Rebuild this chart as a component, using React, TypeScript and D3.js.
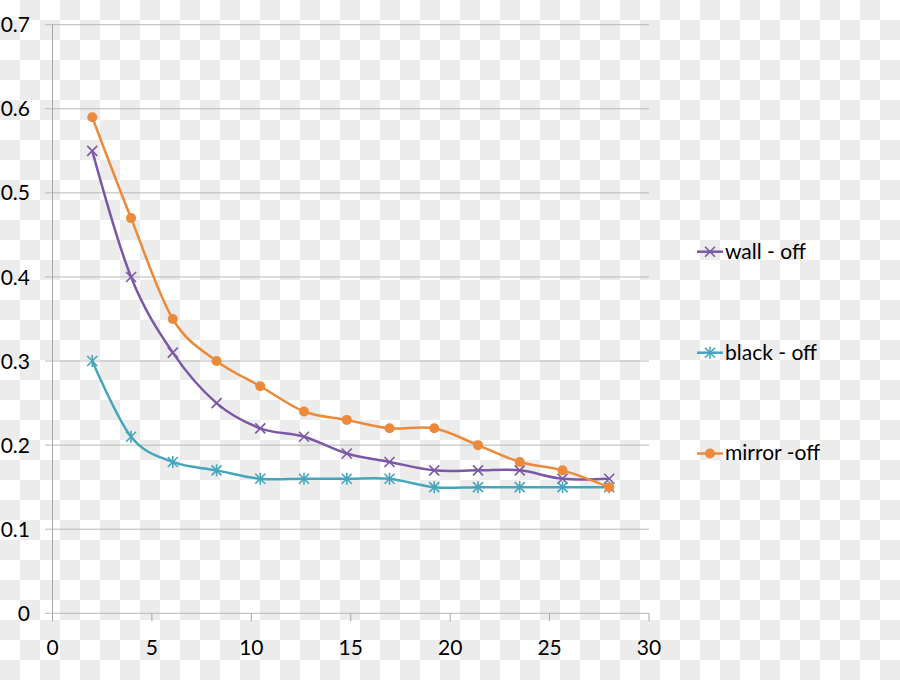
import React from "react";
import * as d3 from "d3";

const xValues = [2, 3.95, 6.05, 8.25, 10.45, 12.65, 14.8, 16.95, 19.2, 21.4, 23.5, 25.65, 28];
const wallOff = [0.55, 0.4, 0.31, 0.25, 0.22, 0.21, 0.19, 0.18, 0.17, 0.17, 0.17, 0.16, 0.16];
const blackOff = [0.3, 0.21, 0.18, 0.17, 0.16, 0.16, 0.16, 0.16, 0.15, 0.15, 0.15, 0.15, 0.15];
const mirrorOff = [0.59, 0.47, 0.35, 0.3, 0.27, 0.24, 0.23, 0.22, 0.22, 0.2, 0.18, 0.17, 0.15];
const seriesNames = ["wall - off", "black - off", "mirror -off"];
const xTicks = [0, 5, 10, 15, 20, 25, 30];
const yTicks = [0, 0.1, 0.2, 0.3, 0.4, 0.5, 0.6, 0.7];

const COLORS = ["#7a58a5", "#45a5bd", "#ec8a3b"];
const FONT = "Lato, 'Noto Sans', sans-serif";

function Marker({ kind, x, y, color }: { kind: number; x: number; y: number; color: string }) {
  const s = 5;
  if (kind === 0) {
    return (
      <g stroke={color} strokeWidth={1.6}>
        <line x1={x - s} y1={y - s} x2={x + s} y2={y + s} />
        <line x1={x - s} y1={y + s} x2={x + s} y2={y - s} />
      </g>
    );
  }
  if (kind === 1) {
    return (
      <g stroke={color} strokeWidth={1.6}>
        <line x1={x - s} y1={y - s} x2={x + s} y2={y + s} />
        <line x1={x - s} y1={y + s} x2={x + s} y2={y - s} />
        <line x1={x} y1={y - s - 1} x2={x} y2={y + s + 1} />
      </g>
    );
  }
  return <circle cx={x} cy={y} r={5} fill={color} />;
}

export default function App() {
  const W = 900;
  const H = 680;
  const x = d3.scaleLinear().domain([0, 30]).range([52.5, 649]);
  const y = d3.scaleLinear().domain([0, 0.7]).range([613.3, 24.7]);
  const series = [wallOff, blackOff, mirrorOff];
  const line = d3
    .line<[number, number]>()
    .x((d) => x(d[0]))
    .y((d) => y(d[1]))
    .curve(d3.curveCardinal.tension(0));
  const legendY = [251.7, 352.7, 453.5];

  const cells: { cx: number; cy: number }[] = [];
  for (let r = 0; r < H / 20; r++) {
    for (let c = 0; c < W / 20; c++) {
      if ((r + c) % 2 === 1) cells.push({ cx: c * 20, cy: r * 20 });
    }
  }

  return (
    <svg
      width={W}
      height={H}
      style={{ position: "absolute", left: 0, top: 0, display: "block" }}
      fontFamily={FONT}
    >
      <rect x={0} y={0} width={W} height={H} fill="#ffffff" />
      <g fill="#ececec">
        {cells.map((c, i) => (
          <rect key={"c" + i} x={c.cx} y={c.cy} width={20} height={20} />
        ))}
      </g>

      {/* gridlines */}
      {yTicks.map((t) => (
        <line key={"g" + t} x1={45} x2={649} y1={y(t)} y2={y(t)} stroke="#b8b8b8" strokeWidth={1} />
      ))}
      {/* y axis */}
      <line x1={x(0)} x2={x(0)} y1={y(0.7)} y2={y(0)} stroke="#a6a6a6" strokeWidth={1} />
      {/* x ticks */}
      {xTicks.map((t) => (
        <line key={"xt" + t} x1={x(t)} x2={x(t)} y1={y(0)} y2={y(0) + 8} stroke="#a6a6a6" strokeWidth={1} />
      ))}
      {/* y labels */}
      {yTicks.map((t) => (
        <text
          key={"yl" + t}
          x={30}
          y={y(t)}
          dy="0.36em"
          textAnchor="end"
          fontSize={21}
          fill="#000"
        >
          {t === 0 ? "0" : d3.format(".1f")(t)}
        </text>
      ))}
      {/* x labels */}
      {xTicks.map((t) => (
        <text key={"xl" + t} x={x(t)} y={655} textAnchor="middle" fontSize={21} fill="#000">
          {t}
        </text>
      ))}

      {/* lines */}
      {series.map((vals, i) => {
        const pts = xValues.map((xv, j) => [xv, vals[j]] as [number, number]);
        return (
          <g key={"s" + i}>
            <path d={line(pts) || ""} fill="none" stroke={COLORS[i]} strokeWidth={2.5} />
            {pts.map((p, j) => (
              <Marker key={j} kind={i} x={x(p[0])} y={y(p[1])} color={COLORS[i]} />
            ))}
          </g>
        );
      })}

      {/* legend */}
      {seriesNames.map((name, i) => (
        <g key={"lg" + i}>
          <line x1={697} x2={723} y1={legendY[i]} y2={legendY[i]} stroke={COLORS[i]} strokeWidth={2.5} />
          <Marker kind={i} x={710} y={legendY[i]} color={COLORS[i]} />
          <text x={725} y={legendY[i]} dy="0.33em" fontSize={21} fill="#000">
            {name}
          </text>
        </g>
      ))}
    </svg>
  );
}
